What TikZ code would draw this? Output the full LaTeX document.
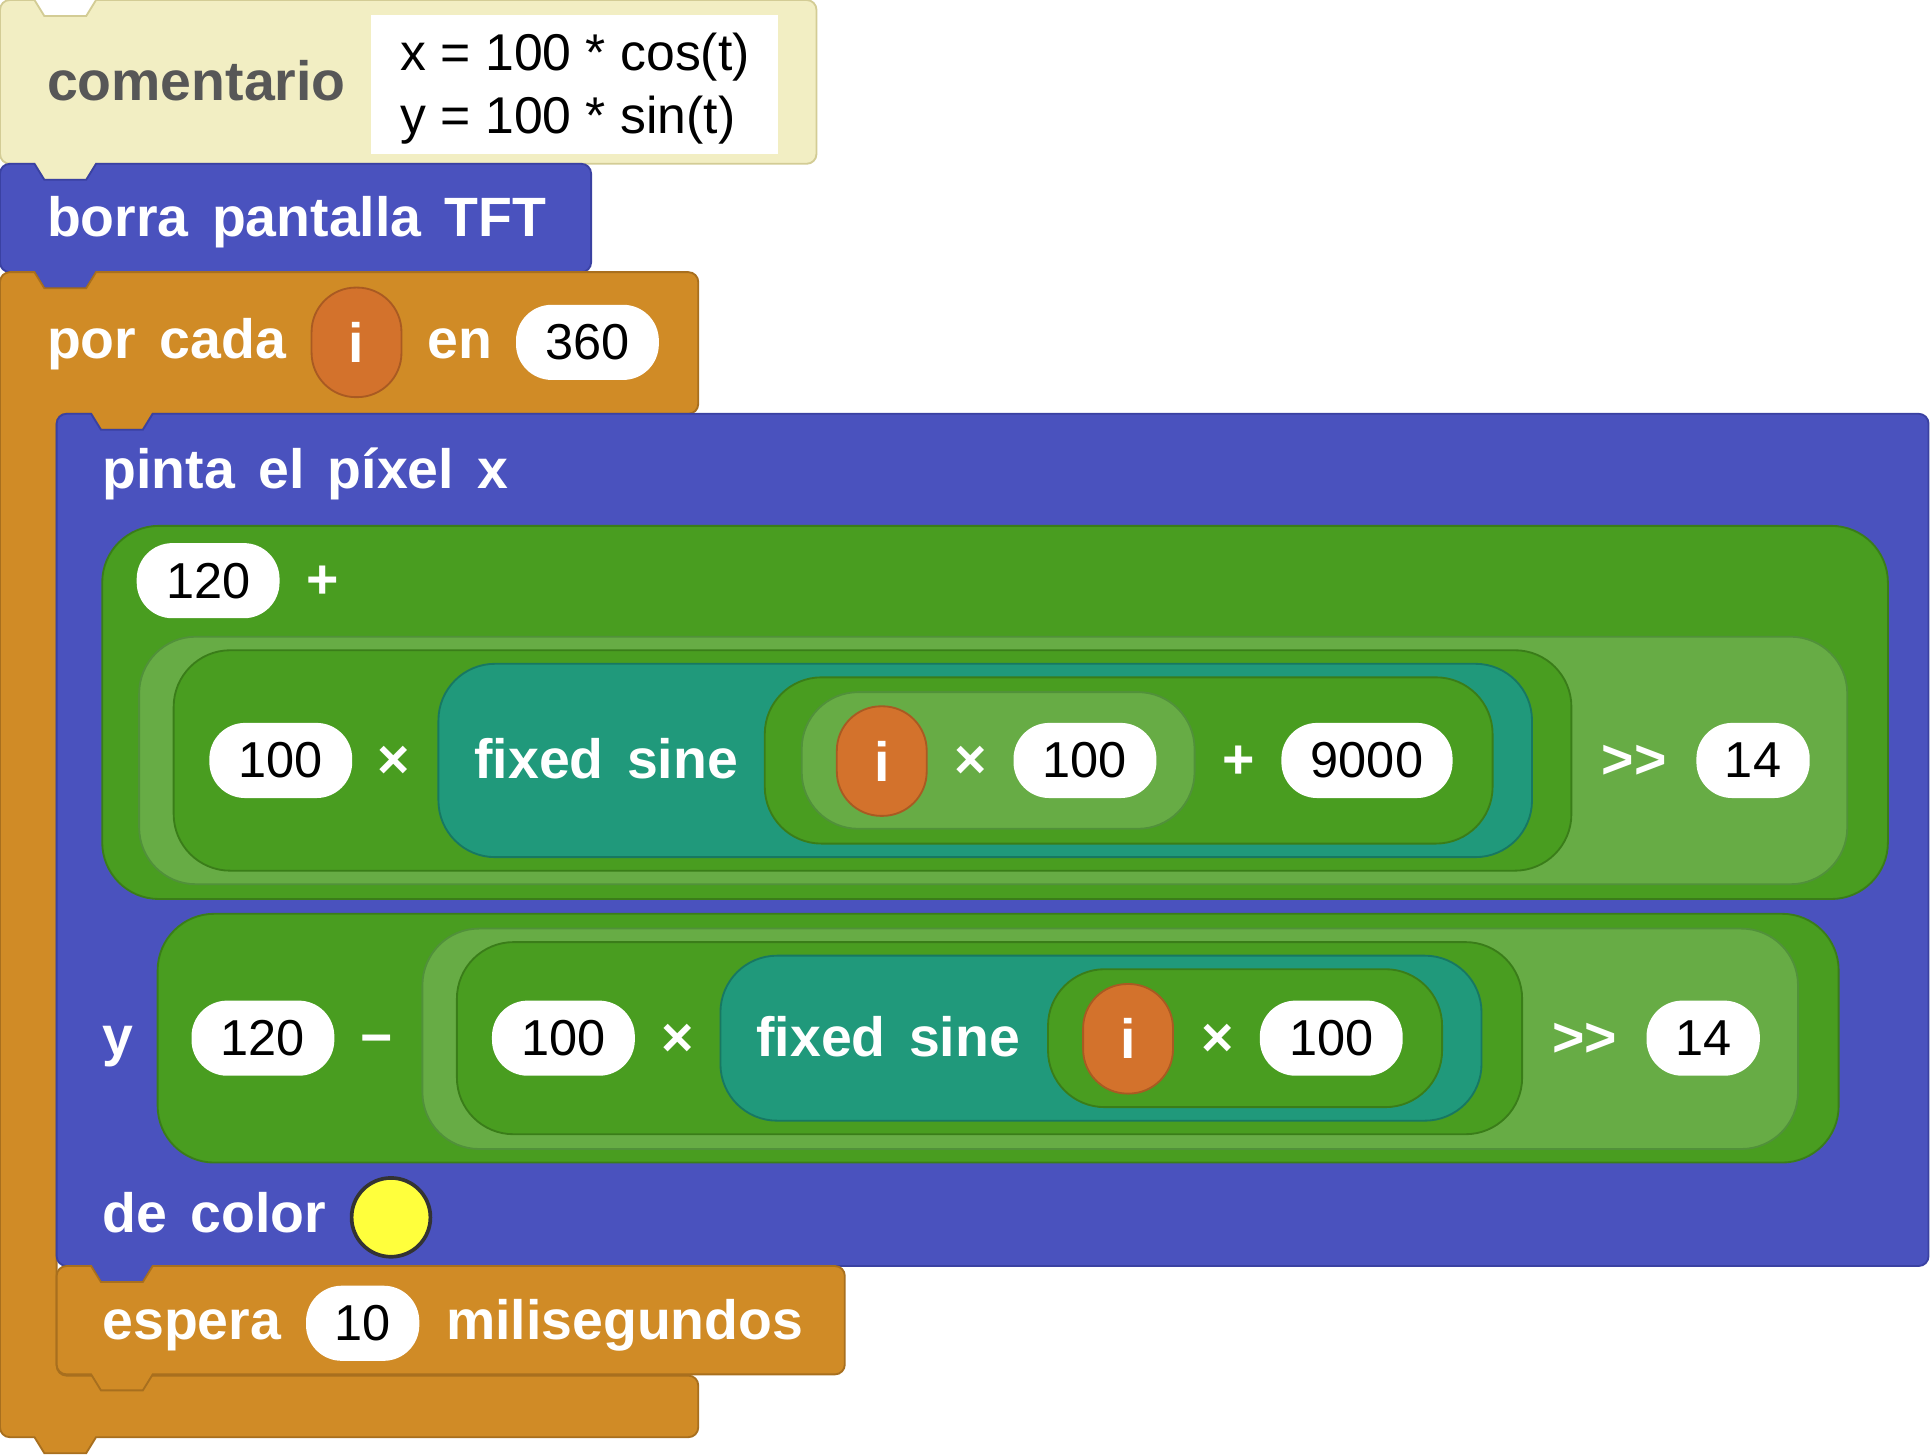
\documentclass[tikz,border=0pt]{standalone}
\usepackage{fontspec}
\setmainfont{Liberation Sans}
\usepackage{tikz}

\definecolor{notepale}{HTML}{F2EEC3}
\definecolor{noteline}{HTML}{D3CC95}
\definecolor{notetext}{HTML}{575757}
\definecolor{blockblue}{HTML}{4A52BE}
\definecolor{blueline}{HTML}{3A41A2}
\definecolor{blockorange}{HTML}{D08B26}
\definecolor{orangeline}{HTML}{A86F1E}
\definecolor{varorange}{HTML}{D3722C}
\definecolor{varline}{HTML}{A95A22}
\definecolor{mathgreen}{HTML}{499D20}
\definecolor{mathline}{HTML}{3A7D19}
\definecolor{lightgreen}{HTML}{67AC45}
\definecolor{lightline}{HTML}{51913A}
\definecolor{sineteal}{HTML}{20997B}
\definecolor{tealline}{HTML}{177862}
\definecolor{pixyellow}{HTML}{FFFF3C}

\newcommand{\fieldgap}{\hspace{19pt}}

\tikzset{
	notebox/.style={fill=notepale, draw=noteline, line width=1.5},
	bluebox/.style={fill=blockblue, draw=blueline, line width=1.5},
	orangebox/.style={fill=blockorange, draw=orangeline, line width=1.5},
	darkgreen/.style={fill=mathgreen, draw=mathline, line width=1.5, rounded corners=46},
	lightgreenbox/.style={fill=lightgreen, draw=lightline, line width=1.5, rounded corners=46},
	tealbox/.style={fill=sineteal, draw=tealline, line width=1.5, rounded corners=46},
	lbl/.style={text=white, font=\fontsize{45}{54}\selectfont\bfseries, inner sep=0, anchor=base west},
	op/.style={text=white, font=\fontsize{45}{54}\selectfont\bfseries, inner sep=0, anchor=base},
	num/.style={fill=white, rounded corners=29, minimum height=61, minimum width=116, inner sep=0, font=\fontsize{41}{49}\selectfont},
	var/.style={fill=varorange, draw=varline, line width=1.5, rounded corners=36, minimum width=73, minimum height=89, inner sep=0, text=white, font=\fontsize{45}{54}\selectfont\bfseries},
}

\begin{document}
\begin{tikzpicture}[x=1pt, y=-1pt]
	\useasboundingbox (0,0) rectangle (1568,1181);
	% comentario
	\draw[notebox] (0,8) arc[start angle=180,end angle=270,radius=8] -- (28,0) -- (36,13) -- (70,13) -- (78,0) -- (655,0) arc[start angle=270,end angle=360,radius=8] -- (663,125) arc[start angle=0,end angle=90,radius=8] -- (78,133) -- (70,146) -- (36,146) -- (28,133) -- (8,133) arc[start angle=90,end angle=180,radius=8] -- cycle;
	\fill[white] (301,12) rectangle (632,125);
	\node[lbl, text=notetext] (note) at (38,82) {comentario};
	\node[inner sep=0, anchor=base west, font=\fontsize{42}{50}\selectfont] (notex) at (325,57) {x = 100 * cos(t)};
	\node[inner sep=0, anchor=base west, font=\fontsize{42}{50}\selectfont] (notey) at (325,108) {y = 100 * sin(t)};
	% borra pantalla
	\draw[bluebox] (0,141) arc[start angle=180,end angle=270,radius=8] -- (28,133) -- (36,146) -- (70,146) -- (78,133) -- (472,133) arc[start angle=270,end angle=360,radius=8] -- (480,213) arc[start angle=0,end angle=90,radius=8] -- (78,221) -- (70,234) -- (36,234) -- (28,221) -- (8,221) arc[start angle=90,end angle=180,radius=8] -- cycle;
	\node[lbl] (borra) at (38,192) {borra\fieldgap pantalla\fieldgap TFT};
	% por cada
	\draw[orangebox] (0,229) arc[start angle=180,end angle=270,radius=8] -- (28,221) -- (36,234) -- (70,234) -- (78,221) -- (559,221) arc[start angle=270,end angle=360,radius=8] -- (567,328) arc[start angle=0,end angle=90,radius=8] -- (124,336) -- (116,349) -- (82,349) -- (74,336) -- (54,336) arc[start angle=270,end angle=180,radius=8] -- (46,1109) arc[start angle=180,end angle=90,radius=8] -- (559,1117) arc[start angle=270,end angle=360,radius=8] -- (567,1159) arc[start angle=0,end angle=90,radius=8] -- (78,1167) -- (70,1180) -- (36,1180) -- (28,1167) -- (8,1167) arc[start angle=90,end angle=180,radius=8] -- cycle;
	\node[lbl] (porcada) at (38,291) {por\fieldgap cada};
	\node[var] (loopvar) at (289.5,278) {i};
	\node[lbl] (en) at (347,291) {en};
	\node[num] (n360) at (477,278) {360};
	% pinta el pixel
	\draw[bluebox] (46,344) arc[start angle=180,end angle=270,radius=8] -- (74,336) -- (82,349) -- (116,349) -- (124,336) -- (1558,336) arc[start angle=270,end angle=360,radius=8] -- (1566,1020) arc[start angle=0,end angle=90,radius=8] -- (124,1028) -- (116,1041) -- (82,1041) -- (74,1028) -- (54,1028) arc[start angle=90,end angle=180,radius=8] -- cycle;
	\node[lbl] (pinta) at (83,397) {pinta\fieldgap el\fieldgap píxel\fieldgap x};
	% x = 120 + ((100 * sine(i*100 + 9000)) >> 14)
	\draw[darkgreen] (83,427) rectangle (1533,730);
	\draw[lightgreenbox] (113,517) rectangle (1500,718);
	\draw[darkgreen] (141,528) rectangle (1276,707);
	\draw[tealbox] (356,539) rectangle (1244,696);
	\draw[darkgreen] (621,550) rectangle (1212,685);
	\draw[lightgreenbox] (651,562) rectangle (970,673);
	\node[num] (xbase) at (169,471.5) {120};
	\node[op] (xplus) at (262,486) {+};
	\node[num] (xamp) at (228,617.5) {100};
	\node[op] (xtimes) at (320,632) {×};
	\node[lbl] (xsine) at (385,632) {fixed\fieldgap sine};
	\node[var] (xvar) at (716,618) {i};
	\node[op] (xtimesb) at (788,632) {×};
	\node[num] (xscale) at (881,617.5) {100};
	\node[op] (xplusb) at (1006,632) {+};
	\node[num, minimum width=139] (xphase) at (1110,617.5) {9000};
	\node[op] (xshift) at (1327,632) {{>}{>}};
	\node[num, minimum width=92] (xbits) at (1423.5,617.5) {14};
	% y = 120 - ((100 * sine(i*100)) >> 14)
	\node[lbl] (ylbl) at (83,857) {y};
	\draw[darkgreen] (128,742) rectangle (1493,944);
	\draw[lightgreenbox] (343,754) rectangle (1460,933);
	\draw[darkgreen] (371,765) rectangle (1236,921);
	\draw[tealbox] (585,776) rectangle (1203,910);
	\draw[darkgreen] (851,787) rectangle (1171,899);
	\node[num] (ybase) at (213.5,843) {120};
	\node[op] (yminus) at (306,858) {−};
	\node[num] (yamp) at (457.5,843) {100};
	\node[op] (ytimes) at (550,858) {×};
	\node[lbl] (ysine) at (614,858) {fixed\fieldgap sine};
	\node[var] (yvar) at (916,843.5) {i};
	\node[op] (ytimesb) at (988.5,858) {×};
	\node[num] (yscale) at (1081,843) {100};
	\node[op] (yshift) at (1287,858) {{>}{>}};
	\node[num, minimum width=92] (ybits) at (1383,843) {14};
	% de color
	\node[lbl] (decolor) at (83,1001) {de\fieldgap color};
	\node[circle, fill=pixyellow, draw=black!80, line width=3, minimum size=64, inner sep=0] (colour) at (317.5,988.5) {};
	% espera
	\draw[orangebox] (46,1036) arc[start angle=180,end angle=270,radius=8] -- (74,1028) -- (82,1041) -- (116,1041) -- (124,1028) -- (678,1028) arc[start angle=270,end angle=360,radius=8] -- (686,1108) arc[start angle=0,end angle=90,radius=8] -- (124,1116) -- (116,1129) -- (82,1129) -- (74,1116) -- (54,1116) arc[start angle=90,end angle=180,radius=8] -- cycle;
	\node[lbl] (espera) at (83,1088) {espera};
	\node[num, minimum width=92] (n10) at (294.5,1074.5) {10};
	\node[lbl] (milis) at (362,1088) {milisegundos};
\end{tikzpicture}
\end{document}
